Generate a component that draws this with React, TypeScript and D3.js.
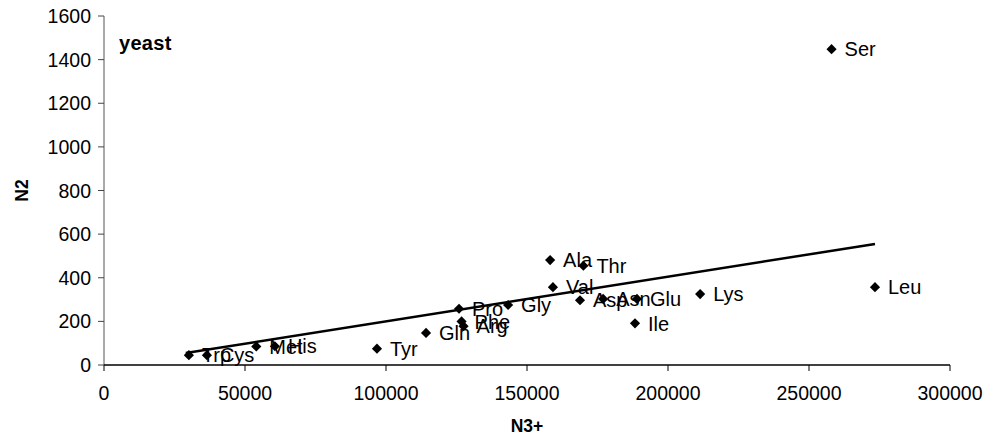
import React from "react";
import * as d3 from "d3";

const names = ["Trp","Cys","Met","His","Tyr","Gln","Pro","Phe","Arg","Gly","Ala","Val","Asp","Thr","Asn","Ile","Glu","Lys","Ser","Leu"];
const n3Values = [30100,36500,54000,60600,96800,114200,125900,126800,127500,143300,158200,159200,168800,170000,177000,188300,189000,211400,258000,273400];
const n2Values = [45,45,85,86,75,147,258,200,178,275,481,357,297,455,303,191,303,325,1448,357];
const trendX = [29000, 273400];
const trendY = [55, 555];
const xTicks = [0,50000,100000,150000,200000,250000,300000];
const yTicks = [0,200,400,600,800,1000,1200,1400,1600];
const title = "yeast";
const xTitle = "N3+";
const yTitle = "N2";

const W = 984, H = 442;
const FONT = "'Liberation Sans', Arial, sans-serif";

export default function App() {
  const x = d3.scaleLinear().domain([0, 300000]).range([104, 950]);
  const y = d3.scaleLinear().domain([0, 1600]).range([365, 16]);
  const line = d3.line<number>().x((d) => x(trendX[d])).y((d) => y(trendY[d]));
  const diamond = d3.symbol().type(d3.symbolDiamond2).size(66)();
  return (
    <svg width={W} height={H} style={{ position: "absolute", left: 0, top: 0, background: "#fff" }} fontFamily={FONT}>
      {/* y axis */}
      <line x1={x(0)} x2={x(0)} y1={y(1600)} y2={y(0)} stroke="#555" strokeWidth={1} />
      {yTicks.map((t) => (
        <g key={"y" + t}>
          <line x1={x(0) - 6} x2={x(0)} y1={y(t)} y2={y(t)} stroke="#444" strokeWidth={1} />
          <text x={x(0) - 13} y={y(t)} dy="0.36em" textAnchor="end" fontSize={19.5} fill="#000">{t}</text>
        </g>
      ))}
      {/* x axis */}
      <line x1={x(0)} x2={x(300000)} y1={y(0)} y2={y(0)} stroke="#000" strokeWidth={1.5} />
      {xTicks.map((t) => (
        <g key={"x" + t}>
          <line x1={x(t)} x2={x(t)} y1={y(0)} y2={y(0) + 6} stroke="#000" strokeWidth={1} />
          <text x={x(t)} y={y(0) + 35} textAnchor="middle" fontSize={19.5} fill="#000">{t}</text>
        </g>
      ))}
      {/* trend line */}
      <path d={line([0, 1]) || ""} fill="none" stroke="#000" strokeWidth={2.5} />
      {/* points */}
      {names.map((nm, i) => (
        <g key={nm}>
          <path d={diamond || ""} transform={`translate(${x(n3Values[i])},${y(n2Values[i])})`} fill="#000" />
          <text x={x(n3Values[i]) + 13} y={y(n2Values[i])} dy="0.36em" fontSize={20} fill="#000">{nm}</text>
        </g>
      ))}
      {/* titles */}
      <text x={119} y={50} fontSize={20} fontWeight="bold" fill="#000" letterSpacing={0.3}>{title}</text>
      <text x={527} y={432} textAnchor="middle" fontSize={17.5} fontWeight="bold" fill="#000">{xTitle}</text>
      <text transform={`translate(28,${y(800)}) rotate(-90)`} textAnchor="middle" fontSize={17.5} fontWeight="bold" fill="#000">{yTitle}</text>
    </svg>
  );
}
